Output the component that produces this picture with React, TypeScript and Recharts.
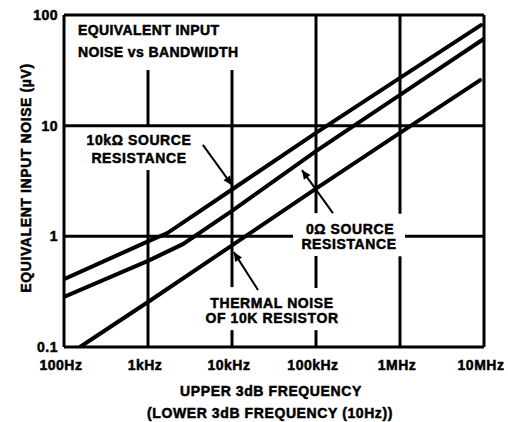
import React from 'react'
import { LineChart, Line, XAxis, YAxis, ReferenceLine } from 'recharts'

// axis ticks
const freqTicks = [100, 1000, 10000, 100000, 1000000, 10000000]
const freqLabels = ['100Hz', '1kHz', '10kHz', '100kHz', '1MHz', '10MHz']
const noiseTicks = [0.1, 1, 10, 100]
const noiseLabels = ['0.1', '1', '10', '100']

// 10kΩ source resistance (µV)
const src10kFreq = [100, 1000, 1700, 10000, 100000, 1000000, 9200000]
const src10kNoise = [0.41, 0.9, 1.07, 2.65, 8.6, 27, 81]

// 0Ω source resistance (µV)
const src0Freq = [100, 1000, 2600, 10000, 100000, 1000000, 10000000]
const src0Noise = [0.283, 0.6, 0.85, 1.7, 5.9, 19, 61]

// thermal noise of 10K resistor (µV)
const thermalFreq = [155, 1000, 10000, 100000, 1000000, 9000000]
const thermalNoise = [0.1, 0.255, 0.83, 2.7, 8.6, 25.8]

const toRows = (freq: number[], noise: number[]) => freq.map((f, i) => ({ freq: f, noise: noise[i] }))
const src10kData = toRows(src10kFreq, src10kNoise)
const src0Data = toRows(src0Freq, src0Noise)
const thermalData = toRows(thermalFreq, thermalNoise)

// grid pieces, broken where the labels sit: [x1, y1, x2, y2] in Hz / µV
const gridSegments: number[][] = [
  [1000, 31.8, 1000, 10], [1000, 3.97, 1000, 0.1],
  [10000, 31.8, 10000, 0.348], [10000, 0.142, 10000, 0.1],
  [100000, 100, 100000, 1.62], [100000, 0.664, 100000, 0.341], [100000, 0.142, 100000, 0.1],
  [1000000, 100, 1000000, 1.6], [1000000, 0.66, 1000000, 0.1],
  [100, 10, 10000000, 10],
  [100, 1, 53200, 1], [1148000, 1, 10000000, 1],
]

// pointer arrows: tail -> head
const arrows: number[][] = [
  [4500, 6.7, 10000, 2.9],
  [159000, 1.62, 68000, 3.97],
  [20400, 0.327, 10500, 0.72],
]

// heavy sans, thickened a little with a stroke
const font = {
  fontFamily: 'Liberation Sans', fontWeight: 'bold', fontSize: 14, fill: '#000', stroke: '#000', strokeWidth: 0.5,
} as const

const Annotations = () => (
  <g style={{ letterSpacing: 0.6 }}>
    <text {...font} x={78} y={35} style={{ letterSpacing: 0.4 }}>EQUIVALENT INPUT</text>
    <text {...font} x={78} y={57} style={{ letterSpacing: 0.4 }}>NOISE vs BANDWIDTH</text>
    <text {...font} x={139} y={145} textAnchor="middle">10kΩ SOURCE</text>
    <text {...font} x={139} y={163} textAnchor="middle">RESISTANCE</text>
    <text {...font} x={350} y={234} textAnchor="middle">0Ω SOURCE</text>
    <text {...font} x={349} y={249} textAnchor="middle">RESISTANCE</text>
    <text {...font} x={272} y={308} textAnchor="middle">THERMAL NOISE</text>
    <text {...font} x={272} y={323} textAnchor="middle">OF 10K RESISTOR</text>
    <text {...font} x={271} y={396} textAnchor="middle">UPPER 3dB FREQUENCY</text>
    <text {...font} x={270} y={418} textAnchor="middle">(LOWER 3dB FREQUENCY (10Hz))</text>
    <text {...font} x={31} y={178} textAnchor="middle" transform="rotate(-90, 31, 178)">
      EQUIVALENT INPUT NOISE (µV)
    </text>
  </g>
)

export default function App() {
  return (
    <div style={{ position: 'absolute', left: 0, top: 0, background: '#fff' }}>
      <LineChart width={508} height={422} margin={{ top: 15, right: 24, bottom: 0, left: 0 }}>
        <defs>
          <marker id="arrowHead" viewBox="0 0 10 10" refX="10" refY="5" markerWidth="10" markerHeight="9"
            markerUnits="userSpaceOnUse" orient="auto">
            <path d="M0,0.5 L10,5 L0,9.5 z" fill="#000" />
          </marker>
        </defs>
        <XAxis dataKey="freq" type="number" scale="log" domain={[100, 10000000]} ticks={freqTicks}
          interval={0} height={75} axisLine={false} tickLine={false} tickSize={0} tickMargin={13}
          tickFormatter={(v: number) => freqLabels[freqTicks.indexOf(v)]}
          tick={{ ...font, dx: -3, style: { letterSpacing: 0.5 } }} allowDataOverflow />
        <YAxis type="number" scale="log" domain={[0.1, 100]} ticks={noiseTicks} interval={0} width={64}
          axisLine={false} tickLine={false} tickSize={0} tickMargin={6}
          tickFormatter={(v: number) => noiseLabels[noiseTicks.indexOf(v)]}
          tick={{ ...font, style: { letterSpacing: 0.5 } }} allowDataOverflow />

        {gridSegments.map((s, i) => (
          <ReferenceLine key={'g' + i} segment={[{ x: s[0], y: s[1] }, { x: s[2], y: s[3] }]}
            stroke="#000" strokeWidth={3} ifOverflow="visible" />
        ))}
        <ReferenceLine x={100} stroke="#000" strokeWidth={3} ifOverflow="visible" />
        <ReferenceLine x={10000000} stroke="#000" strokeWidth={3} ifOverflow="visible" />
        <ReferenceLine y={0.1} stroke="#000" strokeWidth={3} ifOverflow="visible" />
        <ReferenceLine y={100} stroke="#000" strokeWidth={3} ifOverflow="visible" />

        {arrows.map((a, i) => (
          <ReferenceLine key={'a' + i} segment={[{ x: a[0], y: a[1] }, { x: a[2], y: a[3] }]}
            stroke="#000" strokeWidth={2} markerEnd="url(#arrowHead)" ifOverflow="visible" />
        ))}

        <Line data={src10kData} dataKey="noise" type="linear" stroke="#000" strokeWidth={4}
          strokeLinecap="round" dot={false} isAnimationActive={false} />
        <Line data={src0Data} dataKey="noise" type="linear" stroke="#000" strokeWidth={4}
          strokeLinecap="round" dot={false} isAnimationActive={false} />
        <Line data={thermalData} dataKey="noise" type="linear" stroke="#000" strokeWidth={4}
          strokeLinecap="round" dot={false} isAnimationActive={false} />

        <Annotations />
      </LineChart>
    </div>
  )
}
